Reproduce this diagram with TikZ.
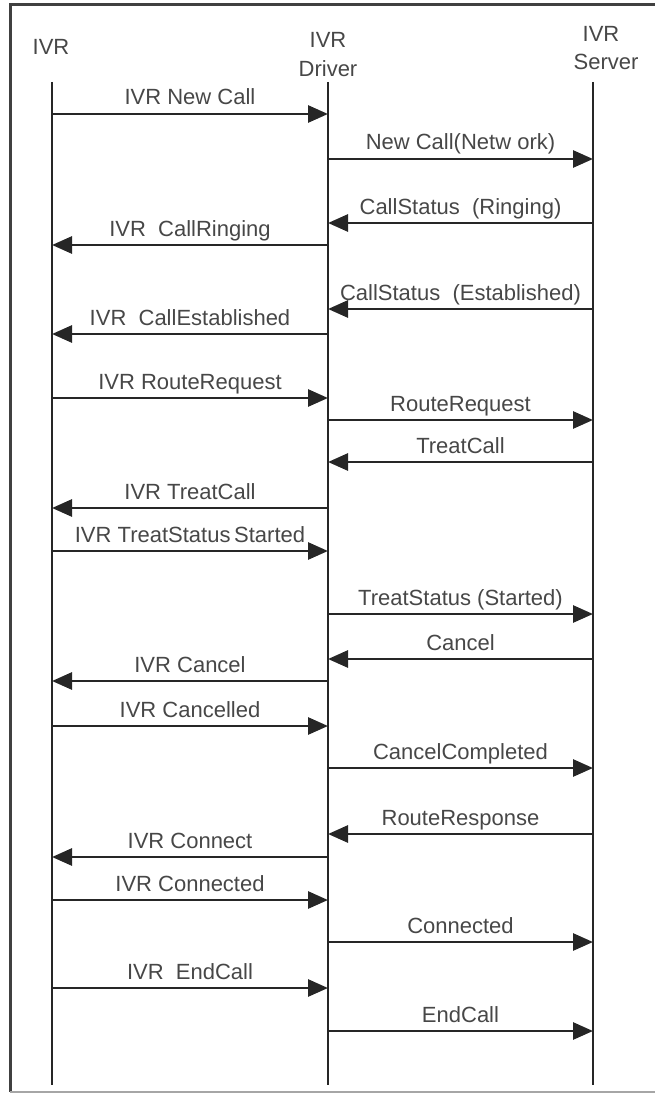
\documentclass[tikz,border=0pt]{standalone}
\usepackage{fontspec}
\setmainfont{Liberation Sans}
\usetikzlibrary{arrows.meta,positioning}

\begin{document}
\begin{tikzpicture}[x=1pt,y=-1pt,>={Triangle[length=20pt,width=17pt]},node distance=29pt]
\tikzstyle{every node}=[font=\fontsize{22}{26}\selectfont,text=black!72,inner sep=0pt]
\tikzstyle{life}=[line width=2.8pt,draw=black!85]
\tikzstyle{msg}=[->,line width=2.8pt,draw=black!85]
\tikzstyle{txt}=[midway,anchor=base,yshift=9pt]
\useasboundingbox (0,0) rectangle (655,1094);
 %frame
 \draw[line width=3pt,black!75] (655,5) -- (10,5) -- (10,1092);
 \draw[line width=1.2pt,black!35] (10,1092) -- (655,1092);
 %heads
 \node[anchor=base] at (51,55) (ivr){IVR};
 \node[anchor=base] at (328,48) (drvname){IVR};
 \node[below=of drvname.base,anchor=base] (drv){Driver};
 \node[anchor=base] at (601,42) (srvname){IVR};
 \node[below=28pt of srvname.base,anchor=base,xshift=5pt] (srv){Server};
 %lifelines
 \coordinate (ivrtop) at (52,82);
 \coordinate (ivrbot) at (52,1085);
 \coordinate (drvtop) at (328,82);
 \coordinate (drvbot) at (328,1085);
 \coordinate (srvtop) at (593,82);
 \coordinate (srvbot) at (593,1085);
 \draw[life] (ivrtop) -- (ivrbot);
 \draw[life] (drvtop) -- (drvbot);
 \draw[life] (srvtop) -- (srvbot);
 %messages
 \draw[msg] (ivrtop |- 0,114) -- (drvtop |- 0,114) node[txt]{IVR New Call};
 \draw[msg] (drvtop |- 0,159) -- (srvtop |- 0,159) node[txt]{New Call(Netw ork)};
 \draw[msg] (srvtop |- 0,223) -- (drvtop |- 0,223) node[txt]{CallStatus\ \ (Ringing)};
 \draw[msg] (drvtop |- 0,245) -- (ivrtop |- 0,245) node[txt]{IVR\ \ CallRinging};
 \draw[msg] (srvtop |- 0,309) -- (drvtop |- 0,309) node[txt]{CallStatus\ \ (Established)};
 \draw[msg] (drvtop |- 0,334) -- (ivrtop |- 0,334) node[txt]{IVR\ \ CallEstablished};
 \draw[msg] (ivrtop |- 0,398) -- (drvtop |- 0,398) node[txt]{IVR RouteRequest};
 \draw[msg] (drvtop |- 0,420) -- (srvtop |- 0,420) node[txt]{RouteRequest};
 \draw[msg] (srvtop |- 0,462) -- (drvtop |- 0,462) node[txt]{TreatCall};
 \draw[msg] (drvtop |- 0,508) -- (ivrtop |- 0,508) node[txt]{IVR TreatCall};
 \draw[msg] (ivrtop |- 0,551) -- (drvtop |- 0,551) node[txt]{IVR TreatStatus\,Started};
 \draw[msg] (drvtop |- 0,614) -- (srvtop |- 0,614) node[txt]{TreatStatus (Started)};
 \draw[msg] (srvtop |- 0,659) -- (drvtop |- 0,659) node[txt]{Cancel};
 \draw[msg] (drvtop |- 0,681) -- (ivrtop |- 0,681) node[txt]{IVR Cancel};
 \draw[msg] (ivrtop |- 0,726) -- (drvtop |- 0,726) node[txt]{IVR Cancelled};
 \draw[msg] (drvtop |- 0,768) -- (srvtop |- 0,768) node[txt]{CancelCompleted};
 \draw[msg] (srvtop |- 0,834) -- (drvtop |- 0,834) node[txt]{RouteResponse};
 \draw[msg] (drvtop |- 0,857) -- (ivrtop |- 0,857) node[txt]{IVR Connect};
 \draw[msg] (ivrtop |- 0,900) -- (drvtop |- 0,900) node[txt]{IVR Connected};
 \draw[msg] (drvtop |- 0,942) -- (srvtop |- 0,942) node[txt]{Connected};
 \draw[msg] (ivrtop |- 0,988) -- (drvtop |- 0,988) node[txt]{IVR\ \ EndCall};
 \draw[msg] (drvtop |- 0,1031) -- (srvtop |- 0,1031) node[txt]{EndCall};
\end{tikzpicture}
\end{document}
